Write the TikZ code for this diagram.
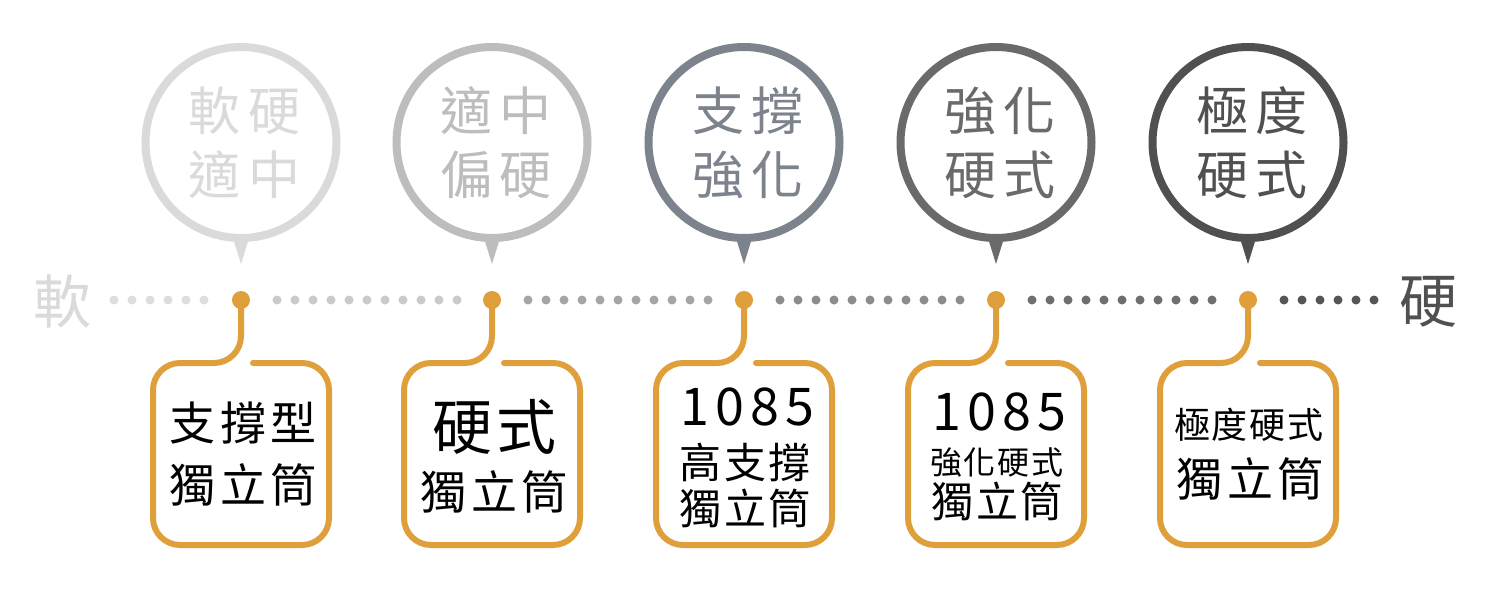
\documentclass[tikz,border=0pt]{standalone}
\usepackage{fontspec}
\setmainfont{Noto Sans CJK TC}
\usetikzlibrary{calc}
\definecolor{ca}{HTML}{DADADA}
\definecolor{cb}{HTML}{BDBDBD}
\definecolor{cc}{HTML}{7C838C}
\definecolor{cd}{HTML}{6A6A6A}
\definecolor{ce}{HTML}{505050}
\definecolor{orng}{HTML}{DFA03C}
\definecolor{s0}{HTML}{DDDDDD}
\definecolor{s1}{HTML}{CACACA}
\definecolor{s2}{HTML}{A5A5A5}
\definecolor{s3}{HTML}{8C8C8C}
\definecolor{s4}{HTML}{6E6E6E}
\definecolor{s5}{HTML}{555555}
\newcommand\fs[1]{\fontsize{#1}{#1}\selectfont}
\newcommand\ls[2]{{\addfontfeature{LetterSpace=#1}#2\kern-#1\dimexpr0.01em\relax}}
\tikzset{
  bubble/.style={circle, draw=#1, text=#1, line width=8pt, minimum size=191pt,
    inner sep=0pt, outer sep=0pt, align=center, font=\fontsize{52}{64}\selectfont},
  boxn/.style={rectangle, minimum width=176pt, minimum height=182pt, inner sep=0pt, outer sep=0pt},
  odot/.style={circle, fill=orng, minimum size=18pt, inner sep=0pt, outer sep=0pt},
  link/.style={draw=orng, line width=6pt, rounded corners=27pt, line cap=round},
  btext/.style={inner sep=0pt, outer sep=0pt, text=black},
  endlabel/.style={inner sep=0pt, outer sep=0pt, font=\fs{58}},
}
\begin{document}
\begin{tikzpicture}[x=1pt,y=-1pt]
\useasboundingbox[fill=white] (0,0) rectangle (1500,600);

% bubbles
\node[bubble=ca] (k1) at (241,142.5) {\ls{15}{軟硬}\\\ls{15}{適中}};
\node[bubble=cb] (k2) at (492,142.5) {\ls{15}{適中}\\\ls{15}{偏硬}};
\node[bubble=cc] (k3) at (744,142.5) {\ls{15}{支撐}\\\ls{15}{強化}};
\node[bubble=cd] (k4) at (996,142.5) {\ls{15}{強化}\\\ls{15}{硬式}};
\node[bubble=ce] (k5) at (1248,142.5) {\ls{15}{極度}\\\ls{15}{硬式}};
\foreach \k/\c in {k1/ca,k2/cb,k3/cc,k4/cd,k5/ce}{
  \fill[\c] ($(\k.south)+(-9,-3)$) -- ($(\k.south)+(9,-3)$) -- ($(\k.south)+(0,26)$) -- cycle;
}

% end labels
\node[endlabel, text=ca] (soft) at (62,301) {軟};
\node[endlabel, text=ce] (hard) at (1428,302) {硬};

% dotted timeline
\foreach \k in {0,...,5}{\fill[s0] (114+18*\k,300) circle[radius=4.5pt];}
\foreach \c/\s in {241/s1,492/s2,744/s3,996/s4}{
  \foreach \k in {0,...,10}{\fill[\s] (\c+36+18*\k,300) circle[radius=4.5pt];}}
\foreach \k in {0,...,5}{\fill[s5] (1284+18*\k,300) circle[radius=4.5pt];}

% markers
\node[odot] (d1) at (241,300) {};
\node[odot] (d2) at (492,300) {};
\node[odot] (d3) at (744,300) {};
\node[odot] (d4) at (996,300) {};
\node[odot] (d5) at (1248,300) {};

% boxes
\node[boxn] (b1) at (241,454) {};
\node[boxn] (b2) at (492,454) {};
\node[boxn] (b3) at (744,454) {};
\node[boxn] (b4) at (996,454) {};
\node[boxn] (b5) at (1248,454) {};
\foreach \i in {1,...,5}{
  \draw[link] ($(b\i.north)+(12,0)$) -- (b\i.north east) -- (b\i.south east)
    -- (b\i.south west) -- (b\i.north west) -- (b\i.north) -- (d\i.center);
}

% box texts
\node[btext, font=\fs{46}] (t1a) at (241,423) {\ls{10}{支撐型}};
\node[btext, font=\fs{46}] (t1b) at (241,485) {\ls{10}{獨立筒}};
\node[btext, font=\fs{60}] (t2a) at (492,427) {\ls{8}{硬式}};
\node[btext, font=\fs{46}] (t2b) at (492,492) {\ls{10}{獨立筒}};
\node[btext, font=\fs{52}] (t3a) at (744,407) {\ls{12}{1085}};
\node[btext, font=\fs{42}] (t3b) at (744,462) {\ls{6}{高支撐}};
\node[btext, font=\fs{42}] (t3c) at (744,508) {\ls{6}{獨立筒}};
\node[btext, font=\fs{52}] (t4a) at (996,412) {\ls{12}{1085}};
\node[btext, font=\fs{32}] (t4b) at (996,462) {\ls{5}{強化硬式}};
\node[btext, font=\fs{42}] (t4c) at (996,501) {\ls{6}{獨立筒}};
\node[btext, font=\fs{36}] (t5a) at (1248,425) {\ls{5}{極度硬式}};
\node[btext, font=\fs{46}] (t5b) at (1248,479) {\ls{10}{獨立筒}};
\end{tikzpicture}
\end{document}
